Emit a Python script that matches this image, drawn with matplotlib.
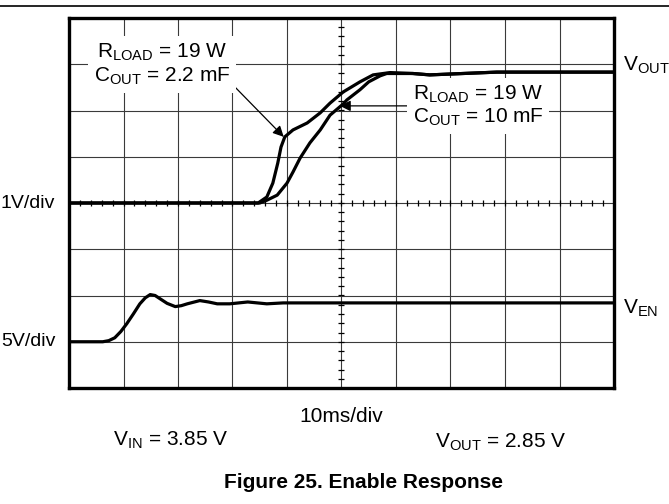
import numpy as np
import matplotlib
matplotlib.use("Agg")
import matplotlib.pyplot as plt
from matplotlib.lines import Line2D

plt.rcParams['font.family'] = ['Liberation Sans', 'DejaVu Sans']
plt.rcParams['mathtext.fontset'] = 'custom'
plt.rcParams['mathtext.rm'] = 'Liberation Sans'
plt.rcParams['mathtext.it'] = 'Liberation Sans:italic'
plt.rcParams['mathtext.bf'] = 'Liberation Sans:bold'

# time base: 10 ms/div, 10 divisions
# V_OUT trace, R_LOAD = 19, C_OUT = 2.2 mF (1 V/div, ground on centre line)
t_out_22 = [0, 34.7, 36.3, 37.4, 38.3, 38.9, 39.6, 41.1, 43.7, 46.1, 47.9, 50.3,
            53.4, 55.8, 58.9, 63.1, 66.2, 72.3, 78.5, 100]
v_out_22 = [0, 0, 0.13, 0.43, 0.86, 1.21, 1.43, 1.58, 1.73, 1.95, 2.16, 2.4,
            2.62, 2.77, 2.82, 2.8, 2.77, 2.8, 2.83, 2.83]
# V_OUT trace, R_LOAD = 19, C_OUT = 10 mF
t_out_10 = [0, 35.0, 36.3, 38.2, 40.0, 41.1, 42.4, 44.2, 46.1, 47.9, 50.3, 51.0,
            53.4, 55.0, 57.1, 58.3, 63.1, 66.2, 72.3, 78.5, 100]
v_out_10 = [0, 0, 0.06, 0.17, 0.43, 0.67, 0.97, 1.3, 1.58, 1.9, 2.14, 2.23,
            2.45, 2.62, 2.75, 2.8, 2.8, 2.77, 2.8, 2.83, 2.83]
# V_EN trace (5 V/div, ground 3 div below centre)
t_en = [0, 6.2, 7.3, 8.4, 9.5, 10.6, 11.8, 13.0, 14.0, 14.9, 15.8, 16.7, 18.0,
        19.5, 20.6, 21.7, 24.0, 25.6, 27.2, 29.5, 32.8, 36.3, 39.3, 100]
v_en = [0, 0, 0.12, 0.43, 1.1, 1.95, 3.0, 4.1, 4.75, 5.1, 5.0, 4.65, 4.15,
        3.8, 3.9, 4.1, 4.45, 4.3, 4.1, 4.1, 4.3, 4.1, 4.2, 4.2]

vout_scale = 1.0   # V/div
ven_scale = 5.0    # V/div
ven_offset = -3    # div

fig = plt.figure(figsize=(6.69, 5.04), dpi=100)
ax = fig.add_axes([69 / 669, 1 - 388 / 504, 545 / 669, 370 / 504])
ax.set_xlim(0, 100)
ax.set_ylim(-4, 4)
ax.set_xticks(np.arange(0, 101, 10))
ax.set_yticks(np.arange(-4, 5, 1))
ax.grid(True, color='#3a3a3a', lw=0.8)
ax.tick_params(length=0, labelbottom=False, labelleft=False)
for s in ax.spines.values():
    s.set_linewidth(2.4)

# minor graticule marks on the centre lines
ax.plot(np.arange(0, 101, 2), np.zeros(51), ls='none', marker='|', ms=5, mew=0.9, color='k')
ax.plot(np.full(41, 50), np.arange(-4, 4.01, 0.2), ls='none', marker='_', ms=5, mew=0.9, color='k')

ax.plot(t_out_22, np.array(v_out_22) / vout_scale, color='k', lw=2.3, solid_joinstyle='round')
ax.plot(t_out_10, np.array(v_out_10) / vout_scale, color='k', lw=2.3, solid_joinstyle='round')
ax.plot(t_en, np.array(v_en) / ven_scale + ven_offset, color='k', lw=2.3, solid_joinstyle='round')

fs = 15
box = dict(facecolor='white', edgecolor='none', pad=4)
ax.text(17.1, 3.0, '$\\mathrm{R_{LOAD}}$ = 19 W\n$\\mathrm{C_{OUT}}$ = 2.2 mF', fontsize=fs,
        ha='center', va='center', multialignment='center', linespacing=1.2, bbox=box, zorder=5)
ax.annotate('', xy=(39.4, 1.43), xytext=(30.1, 2.55),
            arrowprops=dict(arrowstyle='-|>', color='k', lw=0.9, mutation_scale=16, shrinkA=0, shrinkB=0))
ax.text(63.1, 2.1, '$\\mathrm{R_{LOAD}}$ = 19 W\n$\\mathrm{C_{OUT}}$ = 10 mF', fontsize=fs,
        ha='left', va='center', multialignment='left', linespacing=1.1, bbox=box, zorder=5)
ax.annotate('', xy=(49.7, 2.1), xytext=(62.0, 2.1),
            arrowprops=dict(arrowstyle='-|>', color='k', lw=0.9, mutation_scale=16, shrinkA=0, shrinkB=0))

ax.text(101.6, 2.98, '$\\mathrm{V_{OUT}}$', fontsize=fs, ha='left', va='center', clip_on=False)
ax.text(101.6, -2.27, '$\\mathrm{V_{EN}}$', fontsize=fs, ha='left', va='center', clip_on=False)
fig.text(1 / 669, 1 - 203 / 504, '1V/div', fontsize=14, ha='left', va='center')
fig.text(1 / 669, 1 - 341 / 504, '5V/div', fontsize=14, ha='left', va='center')

fig.text(341 / 669, 1 - 417 / 504, '10ms/div', fontsize=fs, ha='center', va='center')
fig.text(113 / 669, 1 - 440 / 504, '$\\mathrm{V_{IN}}$ = 3.85 V', fontsize=fs, ha='left', va='center')
fig.text(435 / 669, 1 - 442 / 504, '$\\mathrm{V_{OUT}}$ = 2.85 V', fontsize=fs, ha='left', va='center')
fig.text(363.5 / 669, 1 - 483 / 504, 'Figure 25. Enable Response', fontsize=15,
         fontweight='bold', ha='center', va='center')

fig.add_artist(Line2D([0, 1], [1 - 6 / 504, 1 - 6 / 504], transform=fig.transFigure, color='k', lw=1.2))

fig.savefig('out.png', dpi=100)
